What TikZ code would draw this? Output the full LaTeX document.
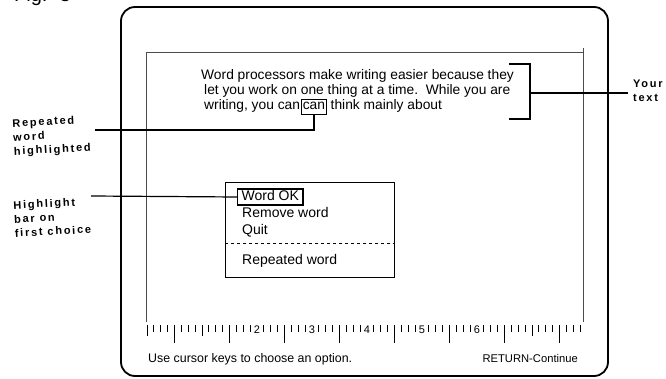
\documentclass[tikz,border=0pt]{standalone}
\usepackage{fontspec}
\setmainfont{Liberation Sans}
\newfontfamily\lblfont[LetterSpace=16]{Liberation Sans}
\begin{document}
\begin{tikzpicture}[x=1pt,y=-1pt,
  outer/.style={line width=1.8pt, rounded corners=14pt},
  frame/.style={line width=0.8pt, black!70},
  conn/.style={line width=1.2pt},
  txt/.style={font=\fontsize{13.8}{15}\selectfont, inner sep=0pt, anchor=base west},
  mtxt/.style={font=\fontsize{14}{15}\selectfont, inner sep=0pt, anchor=base west},
  btxt/.style={font=\fontsize{12.4}{14}\selectfont, inner sep=0pt},
  lbl/.style={font=\lblfont\bfseries\fontsize{11}{14}\selectfont, inner sep=0pt, align=left, anchor=north west},
  rulnum/.style={font=\fontsize{11}{12}\selectfont, inner sep=0pt},
  tick/.style={line width=0.9pt}]
\useasboundingbox (0,0) rectangle (666,379);

% figure caption, cut by the top edge
\node[font=\fontsize{20}{22}\selectfont, inner sep=0pt, anchor=base west] (fig) at (14,1.5) {Fig.\hspace{12pt}3};

% monitor outline and screen frame
\draw[outer] (121,7) rectangle (608,376);
\draw[frame] (146,322) -- (146,52) -- (583,52) -- (583,322);
\draw[frame] (583,52) -- (583,48);

% document text
\node[txt] (l1) at (201,80) {Word processors make writing easier because they};
\node[txt] (l2) at (204,95) {let you work on one thing at a time.\ \ While you are};
\node[txt] (l3a) at (204,110) {writing, you can};
\node[txt, draw, line width=1pt, inner xsep=1.5pt, inner ysep=2.5pt, text height=7.5pt, text depth=2pt] (rep) at ([xshift=0.5pt]l3a.base east) {can};
\node[txt] (l3b) at ([xshift=3.5pt]rep.base east) {think mainly about};

% bracket marking the text block
\coordinate (brt) at (509,64);
\coordinate (brb) at (509,119);
\coordinate (brm) at (530,93);
\draw[conn] (brt) -- (530,64) -- (530,119) -- (brb);
\coordinate (ytend) at (628,93);
\draw[conn] (brm) -- (ytend);
\node[lbl] (ytlbl) at (633,80) {Your\\text};

% repeated word callout
\node[lbl, rotate=3] (replbl) at (12,119) {Repeated\\word\\highlighted};
\coordinate (repend) at (95,130);
\draw[conn] (repend) -- (repend -| rep.south) -- (rep.south);

% option menu
\node[draw, line width=1pt, minimum width=169pt, minimum height=94pt, inner sep=0pt] (menu) at (309.5,230) {};
\node[mtxt, draw, line width=1.2pt, inner xsep=4pt, inner ysep=2pt, text height=10pt, text depth=2pt] (ok) at (237,201) {Word\ OK};
\node[mtxt] (rm) at (242,218) {Remove word};
\node[mtxt] (quit) at (242,235) {Quit};
\coordinate (dl) at (225,243);
\coordinate (dr) at (394,243);
\draw[dash pattern=on 3pt off 3pt, line width=0.8pt] (dl) -- (dr);
\node[mtxt] (rw) at (242,264) {Repeated word};

% highlight bar callout
\node[lbl, rotate=3] (hllbl) at (13,201) {Highlight\\bar on\\first choice};
\coordinate (hlend) at (91,196);
\draw[conn] (hlend) -- (ok.west);

% ruler, eighths of an inch
\foreach \i in {0,...,63}{
  \pgfmathsetmacro\xx{147+6.875*\i}
  \pgfmathtruncatemacro\m{mod(\i,8)}
  \pgfmathtruncatemacro\n{\i/8}
  \ifnum\m=0
    \ifnum\n>1 \ifnum\n<7
      \node[rulnum] (d\n) at (\xx,330) {\n};
    \else
      \draw[tick] (\xx,325) -- (\xx,336);
    \fi\else
      \draw[tick] (\xx,325) -- (\xx,336);
    \fi
  \else\ifnum\m=4
    \draw[tick] (\xx,325) -- (\xx,343);
  \else
    \draw[tick] (\xx,325) -- (\xx,332);
  \fi\fi
}

% status line
\node[btxt, anchor=base west] (hint) at (148,362) {Use cursor keys to choose an option.};
\node[btxt, font=\fontsize{11.2}{14}\selectfont, anchor=base east] (ret) at (578,362) {RETURN-Continue};
\end{tikzpicture}
\end{document}
